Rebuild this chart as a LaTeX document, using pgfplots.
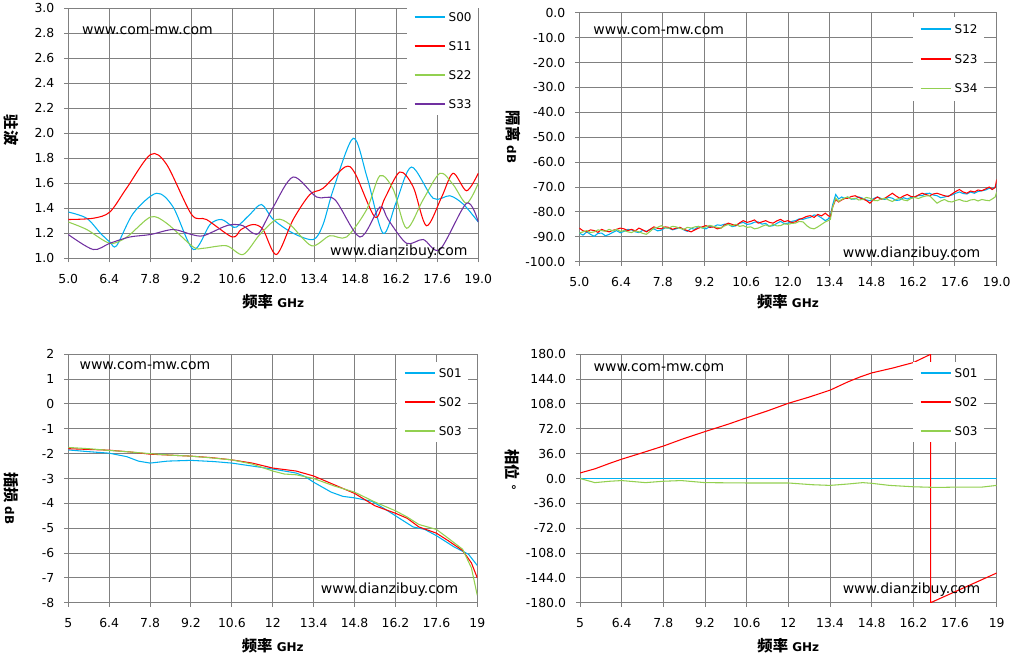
\documentclass[border=0pt]{standalone}
\usepackage{fontspec}
\setmainfont{DejaVu Sans}
\newfontfamily\cjk{Noto Sans CJK SC}
\usepackage{pgfplots}
\pgfplotsset{compat=1.18}
\definecolor{gcol}{RGB}{128,128,128}
\definecolor{cblue}{RGB}{0,176,240}
\definecolor{cred}{RGB}{255,0,0}
\definecolor{cgreen}{RGB}{146,208,80}
\definecolor{cpurple}{RGB}{112,48,160}
\newcommand{\lab}[2]{{\cjk\bfseries\fontsize{11.5}{12}\selectfont #1}{\bfseries\fontsize{9}{10}\selectfont #2}}
\tikzset{wm/.style={font=\fontsize{10.5}{12}\selectfont, anchor=west, inner sep=0pt}}
\pgfplotsset{
  myax/.style={
    scale only axis, xmin=5, xmax=19,
    xtick={5,6.4,7.8,9.2,10.6,12,13.4,14.8,16.2,17.6,19},
    grid=major, grid style={gcol, line width=0.75pt},
    axis line style={gcol, line width=0.75pt},
    tick style={gcol, line width=0.75pt},
    tick align=outside, tick pos=left, major tick length=3pt,
    ticklabel style={font=\fontsize{9.3}{10}\selectfont, text=black},
    xticklabel style={yshift=-5.5pt},
    yticklabel style={xshift=-4pt},
    /pgf/number format/assume math mode=true,
    every axis plot/.append style={line width=0.8pt},
    legend image code/.code={\draw[##1, line width=1.1pt] (0pt,0pt) -- (23pt,0pt);},
    legend cell align=left,
    legend style={draw=none, fill=white, anchor=north west,
      font=\fontsize{9}{10}\selectfont, inner xsep=5pt, inner ysep=5pt,
      column sep=2pt, row sep=15.2pt,
      nodes={inner sep=0pt, text height=6.5pt, text depth=0pt}},
    xlabel style={anchor=center},
    ylabel style={anchor=center, rotate=180},
  },
  fx1/.style={xticklabel style={/pgf/number format/.cd, fixed, fixed zerofill, precision=1}},
  fy1/.style={yticklabel style={/pgf/number format/.cd, fixed, fixed zerofill, precision=1}},
}
\begin{document}
\begin{tikzpicture}
\path[use as bounding box] (0,0) rectangle (760.5pt,495pt);
% ---------------- top left: VSWR
\begin{axis}[myax, fx1, fy1, at={(51.2pt,301.3pt)}, anchor=south west,
  width=307.5pt, height=187.5pt, ymin=1, ymax=3, ytick={1,1.2,...,3.01},
  xlabel={\lab{频率}{ GHz}}, xlabel style={at={(axis description cs:0.5,-0.175)}},
  ylabel={\lab{驻波}{}}, ylabel style={at={(axis description cs:-0.14,0.513)}},
  legend style={at={(axis description cs:0.826,1.01)}}]
\addplot[cblue, smooth, tension=0.5] coordinates {(5.0,1.37) (5.63,1.32) (6.1,1.20) (6.42,1.13) (6.65,1.10) (7.22,1.36) (8.01,1.52) (8.58,1.41) (9.27,1.07) (9.84,1.27) (10.23,1.31) (10.57,1.26) (10.75,1.25) (11.2,1.35) (11.6,1.43) (12.0,1.31) (12.68,1.20) (13.37,1.15) (13.7,1.27) (14.05,1.55) (14.73,1.96) (15.2,1.65) (15.75,1.20) (16.2,1.45) (16.72,1.73) (17.46,1.48) (18.03,1.50) (18.5,1.43) (19.0,1.29)};
\addlegendentry{S00}
\addplot[cred, smooth, tension=0.5] coordinates {(5.0,1.31) (5.85,1.32) (6.42,1.37) (6.99,1.56) (7.81,1.83) (8.36,1.75) (9.21,1.35) (9.72,1.31) (10.6,1.17) (10.9,1.23) (11.31,1.27) (11.65,1.23) (12.11,1.03) (12.68,1.31) (13.25,1.51) (13.7,1.56) (14.45,1.73) (14.79,1.68) (15.47,1.33) (15.81,1.48) (16.32,1.69) (16.78,1.57) (17.23,1.26) (17.75,1.49) (18.14,1.68) (18.6,1.54) (19.0,1.68)};
\addlegendentry{S11}
\addplot[cgreen, smooth, tension=0.5] coordinates {(5.0,1.29) (5.63,1.23) (6.42,1.12) (7.0,1.17) (7.81,1.33) (8.36,1.28) (9.27,1.09) (9.61,1.08) (10.4,1.10) (10.97,1.03) (11.54,1.19) (12.11,1.31) (12.57,1.27) (13.31,1.10) (13.93,1.18) (14.5,1.17) (15.19,1.39) (15.64,1.66) (16.1,1.55) (16.55,1.24) (17.12,1.47) (17.69,1.68) (18.14,1.59) (18.6,1.44) (19.0,1.60)};
\addlegendentry{S22}
\addplot[cpurple, smooth, tension=0.5] coordinates {(5.0,1.19) (5.85,1.07) (6.42,1.12) (7.1,1.17) (7.81,1.19) (8.58,1.23) (9.21,1.19) (9.61,1.18) (10.29,1.25) (10.6,1.27) (10.97,1.26) (11.31,1.20) (11.54,1.21) (12.0,1.41) (12.68,1.65) (13.48,1.49) (14.1,1.47) (14.96,1.17) (15.64,1.41) (15.92,1.31) (16.55,1.12) (17.12,1.15) (17.69,1.07) (18.6,1.44) (19.0,1.29)};
\addlegendentry{S33}
\node[wm] at (axis description cs:0.033,0.91) {www.com-mw.com};
\node[wm] at (axis description cs:0.638,0.025) {www.dianzibuy.com};
\end{axis}
% ---------------- top right: isolation
\begin{axis}[myax, fx1, fy1, at={(434.5pt,298.7pt)}, anchor=south west,
  width=313pt, height=186.75pt, ymin=-100, ymax=0, ytick={-100,-90,...,0},
  xlabel={\lab{频率}{ GHz}}, xlabel style={at={(axis description cs:0.5,-0.162)}},
  ylabel={\lab{隔离}{ dB}}, ylabel style={at={(axis description cs:-0.159,0.5)}},
  legend style={at={(axis description cs:0.7995,0.985)}, row sep=15.8pt, inner ysep=6pt}]
\addplot[cblue] coordinates {(5.0,-88.5) (5.125,-89.3) (5.25,-88) (5.375,-89) (5.5,-89.8) (5.625,-88.6) (5.75,-88.5) (5.875,-89.6) (6.0,-89.0) (6.125,-88.2) (6.25,-87.5) (6.375,-88.4) (6.5,-87.8) (6.625,-87.0) (6.75,-87.2) (6.875,-88.0) (7.0,-88.3) (7.125,-87.4) (7.25,-87.8) (7.375,-87.0) (7.5,-86.8) (7.625,-87.6) (7.75,-87.3) (7.875,-86.4) (8.0,-86.5) (8.125,-87.2) (8.25,-86.8) (8.375,-86.2) (8.5,-87.2) (8.625,-87.8) (8.75,-86.6) (8.875,-87.0) (9.0,-85.8) (9.125,-86.4) (9.25,-86.8) (9.375,-85.9) (9.5,-86.0) (9.625,-85.2) (9.75,-85.4) (9.875,-84.9) (10.0,-85.0) (10.125,-85.9) (10.25,-85.6) (10.375,-84.6) (10.5,-84.2) (10.625,-85.0) (10.75,-84.8) (10.875,-84.1) (11.0,-84.0) (11.125,-84.9) (11.25,-84.6) (11.375,-85.8) (11.5,-85.5) (11.625,-84.6) (11.75,-83.8) (11.875,-84.7) (12.0,-84.5) (12.125,-83.8) (12.25,-83.5) (12.375,-82.8) (12.5,-83.0) (12.625,-82.5) (12.75,-82.2) (12.875,-81.2) (13.0,-81.5) (13.125,-82.4) (13.25,-83.5) (13.35,-82.8) (13.42,-81.5) (13.5,-77) (13.6,-73) (13.7,-74.8) (13.8,-74.0) (13.9,-74.6) (14.0,-74.0) (14.125,-74.9) (14.25,-74.8) (14.375,-74.0) (14.5,-74.5) (14.625,-75.2) (14.75,-75.5) (14.875,-74.6) (15.0,-74.0) (15.125,-74.6) (15.25,-75.0) (15.375,-74.1) (15.5,-74.5) (15.625,-75.4) (15.75,-75.2) (15.875,-74.3) (16.0,-74.8) (16.125,-74.2) (16.25,-74.0) (16.375,-73.4) (16.5,-73.5) (16.625,-72.6) (16.75,-72.5) (16.875,-73.2) (17.0,-73.5) (17.125,-74.3) (17.25,-74.0) (17.375,-73.6) (17.5,-73.2) (17.625,-72.5) (17.75,-72.0) (17.875,-72.6) (18.0,-72.8) (18.125,-72.0) (18.25,-72.5) (18.375,-71.8) (18.5,-71.5) (18.625,-71.2) (18.75,-70.5) (18.85,-70.8) (18.95,-70.0) (19.0,-69)};
\addlegendentry{S12}
\addplot[cred] coordinates {(5.0,-86.5) (5.125,-87.6) (5.25,-88) (5.375,-87.2) (5.5,-87.5) (5.625,-88.2) (5.75,-87) (5.875,-87.6) (6.0,-88) (6.125,-87.4) (6.25,-87) (6.375,-86.5) (6.5,-86.8) (6.625,-87.5) (6.75,-87.0) (6.875,-87.6) (7.0,-86.5) (7.125,-87.2) (7.25,-88.0) (7.375,-87.0) (7.5,-86) (7.625,-86.6) (7.75,-86.8) (7.875,-86.0) (8.0,-86.2) (8.125,-87.0) (8.25,-86.5) (8.375,-86.2) (8.5,-87) (8.625,-87.5) (8.75,-88) (8.875,-87.2) (9.0,-86.5) (9.125,-86.0) (9.25,-85.5) (9.375,-86.2) (9.5,-86) (9.625,-86.8) (9.75,-86.5) (9.875,-85.2) (10.0,-84.5) (10.125,-85.0) (10.25,-85.5) (10.375,-84.4) (10.5,-83.5) (10.625,-84.2) (10.75,-83.8) (10.875,-83.2) (11.0,-84.5) (11.125,-84.0) (11.25,-83.5) (11.375,-84.2) (11.5,-84.5) (11.625,-83.6) (11.75,-83.0) (11.875,-83.9) (12.0,-83.5) (12.125,-84.3) (12.25,-84.0) (12.375,-83.0) (12.5,-82.5) (12.625,-81.8) (12.75,-81.5) (12.875,-82.2) (13.0,-81.0) (13.125,-81.6) (13.25,-80.5) (13.35,-81.5) (13.42,-82) (13.5,-78) (13.6,-75) (13.7,-76.0) (13.8,-75.2) (13.9,-74.6) (14.0,-74.5) (14.125,-73.8) (14.25,-73.5) (14.375,-74.2) (14.5,-74.8) (14.625,-75.4) (14.75,-76.5) (14.875,-75.0) (15.0,-74.0) (15.125,-74.9) (15.25,-74.5) (15.375,-73.5) (15.5,-72.5) (15.625,-73.6) (15.75,-74.5) (15.875,-73.6) (16.0,-73.0) (16.125,-73.8) (16.25,-74.0) (16.375,-73.2) (16.5,-72.5) (16.625,-73.0) (16.75,-73.5) (16.875,-72.8) (17.0,-72.5) (17.125,-73.0) (17.25,-73.5) (17.375,-73.8) (17.5,-72.8) (17.625,-71.8) (17.75,-71.0) (17.875,-72.0) (18.0,-72.5) (18.125,-71.6) (18.25,-72.0) (18.375,-71.2) (18.5,-71.5) (18.625,-70.8) (18.75,-70.0) (18.85,-71.0) (18.95,-70.2) (19.0,-67)};
\addlegendentry{S23}
\addplot[cgreen] coordinates {(5.0,-88.5) (5.125,-88.0) (5.25,-87.5) (5.375,-88.3) (5.5,-88.0) (5.625,-87.2) (5.75,-87.5) (5.875,-87.8) (6.0,-87.0) (6.125,-87.6) (6.25,-87.0) (6.375,-87.8) (6.5,-87.5) (6.625,-88.0) (6.75,-88.3) (6.875,-87.6) (7.0,-88.0) (7.125,-88.6) (7.25,-89.0) (7.375,-87.8) (7.5,-86.5) (7.625,-86.2) (7.75,-85.5) (7.875,-86.4) (8.0,-86.5) (8.125,-85.8) (8.25,-86.0) (8.375,-86.6) (8.5,-87.0) (8.625,-86.2) (8.75,-86.5) (8.875,-86.0) (9.0,-85.8) (9.125,-86.5) (9.25,-86.0) (9.375,-85.4) (9.5,-85.8) (9.625,-86.2) (9.75,-86.5) (9.875,-85.6) (10.0,-85.0) (10.125,-85.6) (10.25,-85.0) (10.375,-85.8) (10.5,-85.5) (10.625,-86.2) (10.75,-86.0) (10.875,-86.8) (11.0,-86.5) (11.125,-85.8) (11.25,-85.2) (11.375,-85.8) (11.5,-85.0) (11.625,-85.6) (11.75,-85.5) (11.875,-84.8) (12.0,-85.0) (12.125,-84.6) (12.25,-84.5) (12.375,-83.8) (12.5,-84.0) (12.625,-85.5) (12.75,-86.5) (12.875,-86.8) (13.0,-86.0) (13.125,-85.0) (13.25,-84.0) (13.35,-83.5) (13.42,-83.0) (13.5,-78) (13.6,-74.5) (13.7,-75.8) (13.8,-75.0) (13.9,-74.4) (14.0,-74.0) (14.125,-74.8) (14.25,-74.5) (14.375,-75.2) (14.5,-75.0) (14.625,-74.2) (14.75,-74.5) (14.875,-75.4) (15.0,-75.5) (15.125,-74.8) (15.25,-74.5) (15.375,-75.2) (15.5,-75.8) (15.625,-75.0) (15.75,-74.5) (15.875,-75.2) (16.0,-75.5) (16.125,-74.6) (16.25,-74.2) (16.375,-74.6) (16.5,-74.0) (16.625,-73.6) (16.75,-73.5) (16.875,-75.0) (17.0,-76.5) (17.125,-75.6) (17.25,-75.0) (17.375,-75.8) (17.5,-76.0) (17.625,-75.4) (17.75,-75.0) (17.875,-75.6) (18.0,-75.8) (18.125,-75.2) (18.25,-75.0) (18.375,-75.6) (18.5,-75.0) (18.625,-75.3) (18.75,-75.5) (18.85,-74.8) (18.95,-74.0) (19.0,-72)};
\addlegendentry{S34}
\node[wm] at (axis description cs:0.033,0.928) {www.com-mw.com};
\node[wm] at (axis description cs:0.631,0.034) {www.dianzibuy.com};
\end{axis}
% ---------------- bottom left: insertion loss
\begin{axis}[myax, at={(51.2pt,42.98pt)}, anchor=south west,
  width=306.75pt, height=186.3pt, ymin=-8, ymax=2, ytick={-8,-7,...,2},
  xlabel={\lab{频率}{ GHz}}, xlabel style={at={(axis description cs:0.5,-0.174)}},
  ylabel={\lab{插损}{ dB}}, ylabel style={at={(axis description cs:-0.14,0.42)}},
  legend style={at={(axis description cs:0.804,0.97)}}]
\addplot[cblue] coordinates {(5.0,-1.85) (5.7,-1.92) (6.4,-1.98) (7.0,-2.12) (7.4,-2.3) (7.8,-2.38) (8.4,-2.3) (9.2,-2.27) (10.0,-2.32) (10.6,-2.38) (11.3,-2.5) (12.0,-2.62) (12.8,-2.78) (13.1,-2.92) (13.4,-3.15) (13.7,-3.35) (14.0,-3.55) (14.4,-3.72) (14.8,-3.78) (15.4,-3.92) (15.8,-4.2) (16.2,-4.5) (16.8,-4.95) (17.2,-5.05) (17.6,-5.3) (18.2,-5.75) (18.7,-6.05) (19.0,-6.5)};
\addlegendentry{S01}
\addplot[cred] coordinates {(5.0,-1.8) (5.7,-1.83) (6.4,-1.86) (7.1,-1.93) (7.8,-2.02) (8.5,-2.06) (9.2,-2.1) (9.9,-2.16) (10.6,-2.25) (11.3,-2.38) (12.0,-2.58) (12.8,-2.7) (13.4,-2.9) (14.1,-3.25) (14.8,-3.6) (15.5,-4.1) (16.2,-4.4) (16.6,-4.6) (17.0,-4.95) (17.6,-5.2) (18.0,-5.5) (18.5,-5.9) (18.8,-6.4) (19.0,-7.0)};
\addlegendentry{S02}
\addplot[cgreen] coordinates {(5.0,-1.75) (5.7,-1.8) (6.4,-1.87) (7.1,-1.93) (7.8,-2.0) (8.5,-2.06) (9.2,-2.1) (9.9,-2.17) (10.6,-2.25) (11.3,-2.42) (12.0,-2.7) (12.4,-2.82) (12.8,-2.85) (13.4,-3.0) (14.1,-3.3) (14.8,-3.55) (15.5,-3.95) (16.2,-4.3) (16.6,-4.55) (17.0,-4.85) (17.6,-5.05) (18.0,-5.4) (18.5,-5.85) (18.8,-6.6) (19.0,-7.7)};
\addlegendentry{S03}
\node[wm] at (axis description cs:0.027,0.953) {www.com-mw.com};
\node[wm] at (axis description cs:0.617,0.051) {www.dianzibuy.com};
\end{axis}
% ---------------- bottom right: phase
\begin{axis}[myax, fy1, at={(435pt,42.98pt)}, anchor=south west,
  width=312.5pt, height=186.3pt, ymin=-180, ymax=180, ytick={-180,-144,...,180},
  xlabel={\lab{频率}{ GHz}}, xlabel style={at={(axis description cs:0.5,-0.174)}},
  ylabel={\lab{相位}{ °}}, ylabel style={at={(axis description cs:-0.161,0.534)}},
  legend style={at={(axis description cs:0.799,0.97)}}]
\addplot[cblue] coordinates {(5,0) (19,0)};
\addlegendentry{S01}
\addplot[cred] coordinates {(5.0,8) (5.5,14) (6.0,22) (6.4,28) (7.0,36) (7.8,47) (8.5,58) (9.2,68) (10.0,79) (10.6,88) (11.3,98) (12.0,109) (12.7,118) (13.4,128) (14.0,140) (14.4,147) (14.8,153) (15.5,160) (16.2,168) (16.78,180) (16.78,-180) (19.0,-137)};
\addlegendentry{S02}
\addplot[cgreen] coordinates {(5.0,0) (5.5,-6) (6.0,-4) (6.4,-3) (7.2,-6) (7.8,-4) (8.4,-3) (9.2,-6) (10.6,-6.5) (12.0,-6.5) (12.8,-9) (13.4,-10) (14.0,-8) (14.5,-6) (14.8,-7) (15.4,-10) (16.2,-12) (17.0,-13) (17.6,-12.5) (18.5,-12.5) (19.0,-10)};
\addlegendentry{S03}
\node[wm] at (axis description cs:0.032,0.948) {www.com-mw.com};
\node[wm] at (axis description cs:0.63,0.051) {www.dianzibuy.com};
\end{axis}
\end{tikzpicture}
\end{document}
